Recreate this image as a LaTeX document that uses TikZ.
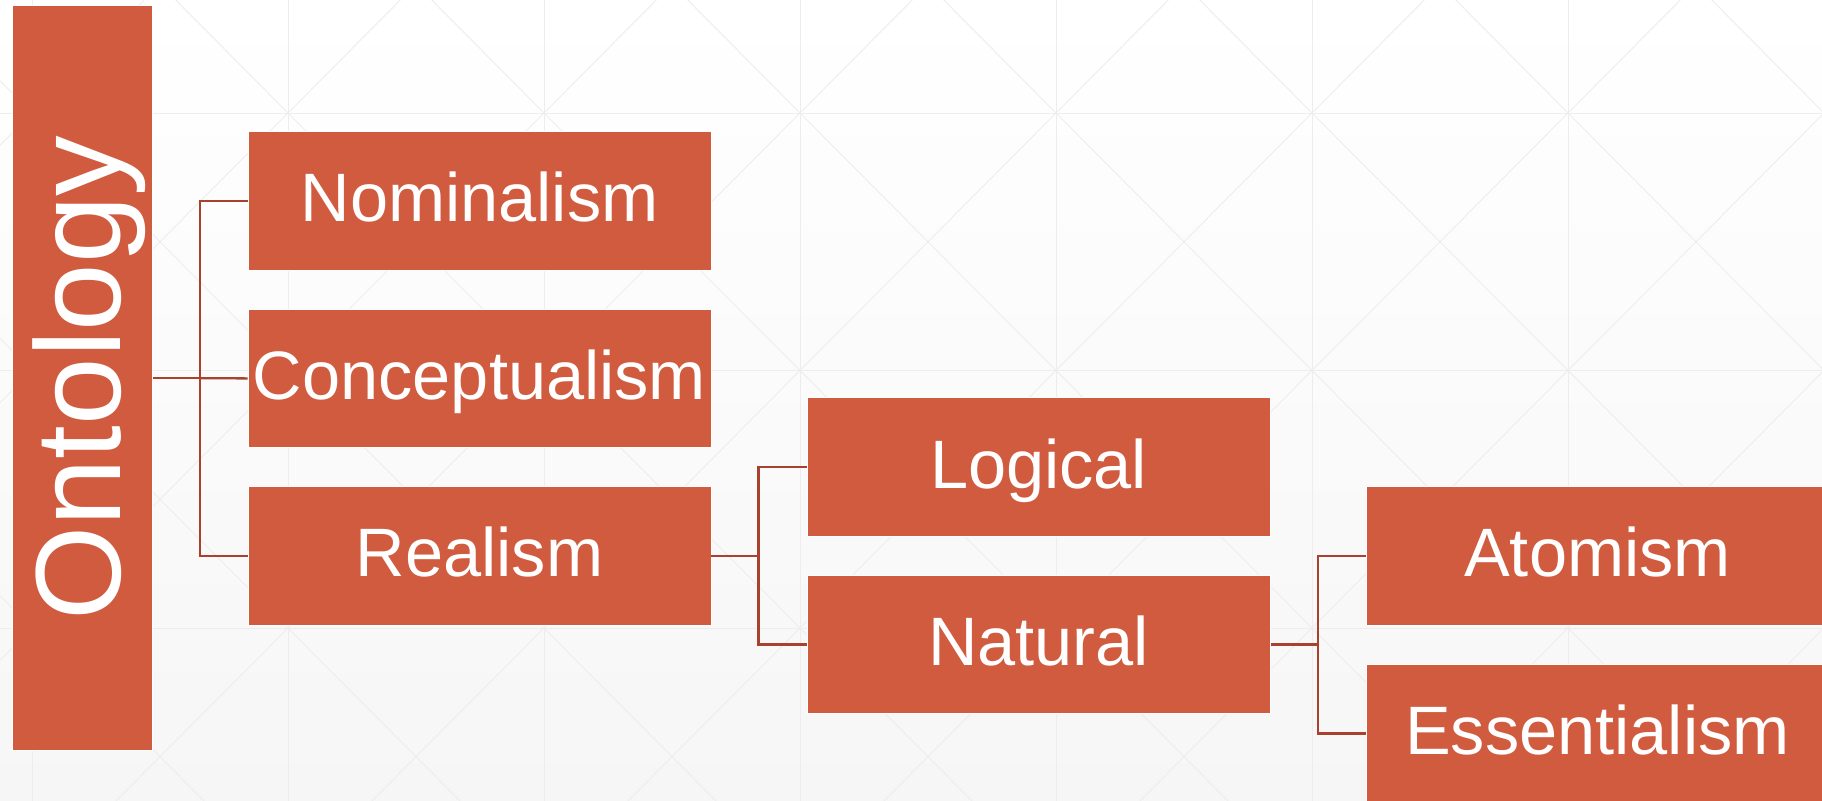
\documentclass[tikz,border=0pt]{standalone}
\usepackage{fontspec}
\setmainfont{Liberation Sans}

\definecolor{boxred}{RGB}{209,91,63}
\definecolor{linkred}{RGB}{168,66,46}
\definecolor{gridgray}{RGB}{237,237,237}

\tikzstyle{b1} = [rectangle, fill=boxred, draw=white, line width=0.5pt, minimum width=9.26cm, minimum height=2.77cm, inner sep=0pt, text=white, font=\fontsize{39}{47}\selectfont, text height=28pt, text depth=4pt]
\tikzstyle{b2} = [b1, rotate=90, minimum width=14.9cm, minimum height=2.8cm, font=\fontsize{69}{80}\selectfont, text height=49pt, text depth=6pt]
\tikzstyle{l1} = [draw=linkred, line width=1.3pt]
\tikzstyle{g1} = [draw=gridgray, line width=0.5pt]

\begin{document}
\begin{tikzpicture}[x=0.02cm, y=0.02cm]
    \useasboundingbox (0,0) rectangle (1822,-801);
    \clip (0,0) rectangle (1822,-801);
    % background
    \fill[top color=white, bottom color=gray!7] (0,0) rectangle (1822,-801);
    \foreach \i in {0,...,7}
      \draw[g1] ({32+256*\i},0) -- ({32+256*\i},-801);
    \foreach \j in {0,...,2}
      \draw[g1] (0,{-113-257.5*\j}) -- (1822,{-113-257.5*\j});
    \foreach \i in {-1,...,6}
      \foreach \j in {0,...,3} {
        \draw[g1] ({32+256*\i},{144.5-257.5*\j}) -- ({288+256*\i},{-113-257.5*\j});
        \draw[g1] ({288+256*\i},{144.5-257.5*\j}) -- ({32+256*\i},{-113-257.5*\j});
      }

    \node[b2] (A1) at (82.7, -378.2) {Ontology};
    \node[b1] (B1) at (479.5, -200.9) {Nominalism};
    \node[b1] (B2) at (479.5, -378.4) {Conceptualism};
    \node[b1] (B3) at (479.5, -555.9) {Realism};
    \node[b1] (C1) at (1038.6, -467.1) {Logical};
    \node[b1] (C2) at (1038.6, -644.6) {Natural};
    \node[b1] (D1) at (1597.5, -555.9) {Atomism};
    \node[b1] (D2) at (1597.5, -733.4) {Essentialism};

    \coordinate (J1) at (200, -378.2);
    \coordinate (J2) at (758.5, -555.9);
    \coordinate (J3) at (1318, -644.6);
    \draw[l1] (A1.south) -- (J1);
    \draw[l1] (B1.west) -| (J1) |- (B3.west);
    \draw[l1] (J1) -- (B2.west);
    \draw[l1] (B3.east) -- (J2);
    \draw[l1] (C1.west) -| (J2) |- (C2.west);
    \draw[l1] (C2.east) -- (J3);
    \draw[l1] (D1.west) -| (J3) |- (D2.west);
  \end{tikzpicture}
\end{document}
